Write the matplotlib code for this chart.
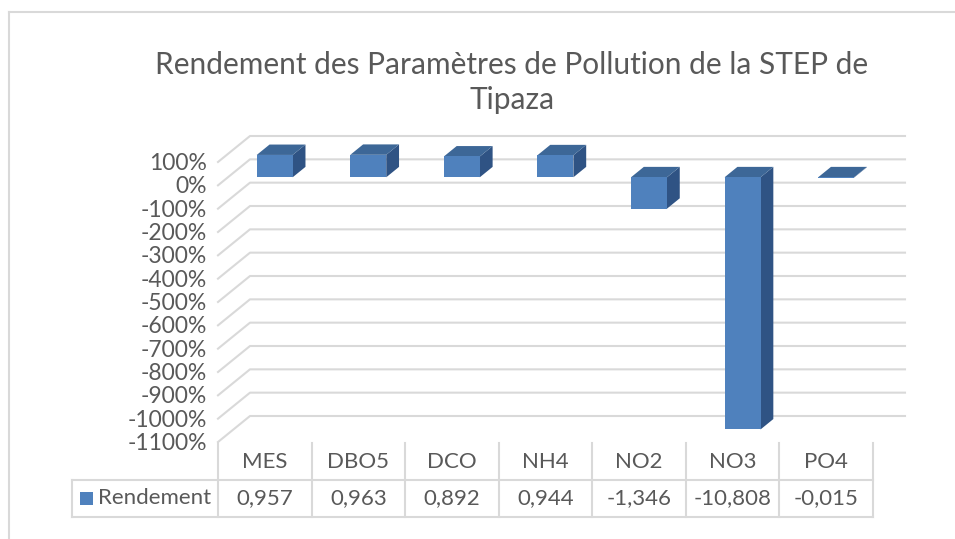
import matplotlib.pyplot as plt
from matplotlib.patches import Polygon, Rectangle
from matplotlib.lines import Line2D

categories = ['MES', 'DBO5', 'DCO', 'NH4', 'NO2', 'NO3', 'PO4']
rendement = [0.957, 0.963, 0.892, 0.944, -1.346, -10.808, -0.015]
rendement_labels = ['0,957', '0,963', '0,892', '0,944', '-1,346', '-10,808', '-0,015']
y_ticks = list(range(1, -12, -1))          # 1 = 100 %
y_tick_labels = [f'{t * 100}%' for t in y_ticks]
series_name = 'Rendement'
title = 'Rendement des Paramètres de Pollution de la STEP de\nTipaza'

plt.rcParams['font.family'] = ['Lato', 'DejaVu Sans']
text_color = '#595959'
grid_color = '#D9D9D9'
front_color = '#4F81BD'
top_color = '#3D6797'
side_color = '#2F5384'

W, H = 955, 539
fig = plt.figure(figsize=(W / 100, H / 100), dpi=100)

# front plane of the plot box (pixels from top-left)
left, right, top, bottom = 218, 873, 162, 442
ax = fig.add_axes([left / W, 1 - bottom / H, (right - left) / W, (bottom - top) / H])
n = len(categories)
ax.set_xlim(-0.5, n - 0.5)
ax.set_ylim(y_ticks[-1], y_ticks[0])
ax.axis('off')

# oblique depth: full depth = 32 px right, 26 px up
px_x = (right - left) / n
px_y = (bottom - top) / (y_ticks[0] - y_ticks[-1])
KX, KY = 32 / px_x, 26 / px_y


def proj(x, v, d):
    return (x + KX * d, v + KY * d)


# side wall diagonals + back wall gridlines
for t in y_ticks:
    pts = [proj(-0.5, t, 0), proj(-0.5, t, 1), proj(n - 0.5, t, 1)]
    ax.add_line(Line2D([p[0] for p in pts], [p[1] for p in pts],
                       color=grid_color, lw=1.5, clip_on=False, zorder=1))

# 3D columns
hw = 0.192
d0, d1 = 0.31, 0.71
for i, v in enumerate(rendement):
    lo, hi = min(0, v), max(0, v)
    x0, x1 = i - hw, i + hw
    side = [proj(x1, lo, d0), proj(x1, lo, d1), proj(x1, hi, d1), proj(x1, hi, d0)]
    topf = [proj(x0, hi, d0), proj(x1, hi, d0), proj(x1, hi, d1), proj(x0, hi, d1)]
    front = [proj(x0, lo, d0), proj(x1, lo, d0), proj(x1, hi, d0), proj(x0, hi, d0)]
    for poly, c in ((side, side_color), (topf, top_color), (front, front_color)):
        ax.add_patch(Polygon(poly, closed=True, facecolor=c, edgecolor='none',
                             clip_on=False, zorder=2))

# y tick labels
for t, lab in zip(y_ticks, y_tick_labels):
    ax.annotate(lab, xy=(-0.5, t), xytext=(-11, -1.5), textcoords='offset pixels',
                ha='right', va='center', fontsize=16.5, color=text_color)

# data table under the plot
def fy(y_px):
    return 1 - y_px / H


def fx(x_px):
    return x_px / W


row0, row1, row2 = 443, 480, 517
tbl_left = 72
edges = [left + k * px_x for k in range(n + 1)]
for xe in edges:
    fig.add_artist(Line2D([fx(xe), fx(xe)], [fy(row0), fy(row2)], color=grid_color, lw=1.5))
fig.add_artist(Line2D([fx(tbl_left), fx(tbl_left)], [fy(row1), fy(row2)], color=grid_color, lw=1.5))
for yr in (row1, row2):
    fig.add_artist(Line2D([fx(tbl_left), fx(right)], [fy(yr), fy(yr)], color=grid_color, lw=1.5))

for k, (cat, lab) in enumerate(zip(categories, rendement_labels)):
    xc = fx((edges[k] + edges[k + 1]) / 2)
    fig.text(xc, fy((row0 + row1) / 2 + 1), cat, ha='center', va='center',
             fontsize=16, color=text_color)
    fig.text(xc, fy((row1 + row2) / 2), lab, ha='center', va='center',
             fontsize=16, color=text_color)

fig.add_artist(Rectangle((fx(80), fy(505)), 13 / W, 13 / H, facecolor=front_color,
                         edgecolor='none'))
fig.text(fx(98), fy((row1 + row2) / 2), series_name, ha='left', va='center',
         fontsize=16, color=text_color)

# title
fig.text(fx(512), fy(51), title, ha='center', va='top', fontsize=21.5,
         color=text_color, linespacing=1.3)

# chart area border (top and left edges)
fig.add_artist(Line2D([fx(9), fx(W)], [fy(12), fy(12)], color=grid_color, lw=1.5))
fig.add_artist(Line2D([fx(9), fx(9)], [fy(12), fy(H)], color=grid_color, lw=1.5))

fig.savefig('out.png', dpi=100, facecolor='white')
